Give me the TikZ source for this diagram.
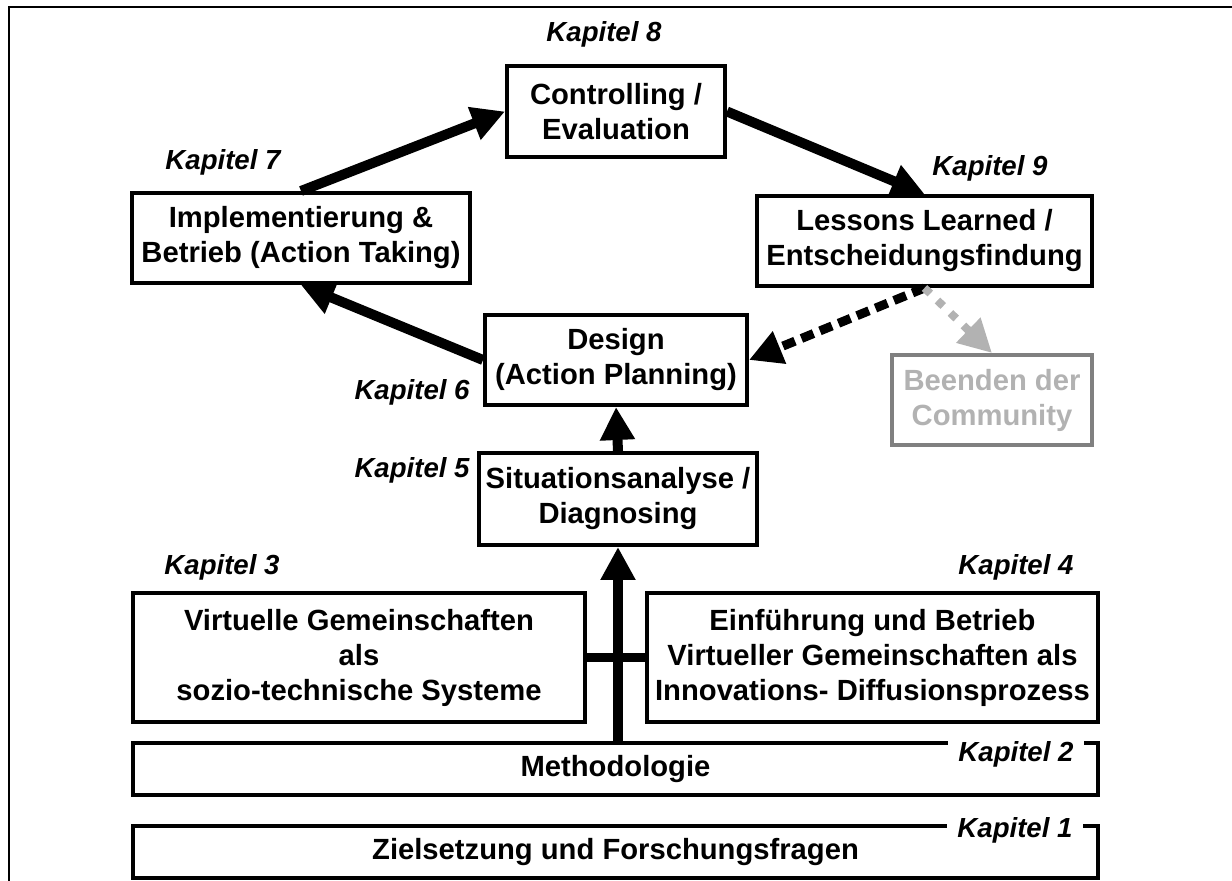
\documentclass[tikz,border=0pt]{standalone}
\usepackage{fontspec}
\setmainfont{Liberation Sans}
\usetikzlibrary{arrows.meta}
\definecolor{lgray}{RGB}{178,178,178}
\definecolor{mgray}{RGB}{128,128,128}
\begin{document}
\begin{tikzpicture}[x=0.5pt,y=-0.5pt,
  box/.style={draw, line width=2pt, inner sep=0pt, align=center, fill=white,
    font=\bfseries\fontsize{14.6}{17.5}\selectfont},
  kap/.style={font=\bfseries\itshape\fontsize{13.8}{16}\selectfont, inner sep=0pt, anchor=base},
  kapw/.style={kap, fill=white, inner xsep=5pt, inner ysep=3pt},
  arr/.style={line width=5pt, -{Triangle[length=16.5pt,width=16.5pt]}},
  dotarr/.style={line width=4.5pt, dash pattern=on 6.5pt off 3.5pt, -{Triangle[length=16.5pt,width=16.5pt]}},
  grayarr/.style={line width=4pt, draw=lgray, dash pattern=on 4pt off 5pt, -{Triangle[length=16.5pt,width=16.5pt]}}
]
\useasboundingbox (0,0) rectangle (1232,881);
% frame
\draw[line width=1pt] (1232,7) -- (9,7) -- (9,881);

% boxes
\node[box, minimum width=109pt, minimum height=45.5pt] (ctrl) at (616,111.5) {Controlling /\\Evaluation};
\node[box, minimum width=169pt, minimum height=45pt] (impl) at (301,238) {Implementierung \&\\Betrieb (Action Taking)};
\node[box, minimum width=167.5pt, minimum height=45pt] (less) at (924.5,241) {Lessons Learned /\\Entscheidungsfindung};
\node[box, minimum width=131pt, minimum height=45pt] (design) at (616,360) {Design\\(Action Planning)};
\node[box, draw=mgray, text=lgray, minimum width=100pt, minimum height=45pt] (beend) at (992,400) {Beenden der\\Community};
\node[box, minimum width=139pt, minimum height=46pt] (sit) at (618,499) {Situationsanalyse /\\Diagnosing};
\node[box, minimum width=226pt, minimum height=64.5pt] (virt) at (359,657.5) {Virtuelle Gemeinschaften\\als\\sozio-technische Systeme};
\node[box, minimum width=225.5pt, minimum height=64.5pt] (einf) at (872.5,657.5) {Einführung und Betrieb\\Virtueller Gemeinschaften als\\Innovations- Diffusionsprozess};
\node[box, minimum width=482.5pt, minimum height=26pt] (meth) at (615.5,769) {Methodologie};
\node[box, minimum width=482.5pt, minimum height=26pt] (ziel) at (615.5,852) {Zielsetzung und Forschungsfragen};

% chapter labels
\node[kap] (k8) at (604,42) {Kapitel 8};
\node[kap] (k7) at (223,170) {Kapitel 7};
\node[kap] (k9) at (990,176) {Kapitel 9};
\node[kap, anchor=base east] (k6) at (470,400) {Kapitel 6};
\node[kap, anchor=base east] (k5) at (470,478) {Kapitel 5};
\node[kap] (k3) at (222,575) {Kapitel 3};
\node[kap] (k4) at (1016,575) {Kapitel 4};
\node[kapw] (k2) at (1016,762) {Kapitel 2};
\node[kapw] (k1) at (1015,837) {Kapitel 1};

% connectors
\draw[arr] (impl.north) -- (ctrl.west);
\draw[arr] (ctrl.east) -- (less.north);
\draw[dotarr] (less.south) -- (design.east);
\draw[grayarr] (less.south) -- (beend.north);
\draw[arr] (design.west) -- (impl.south);
\draw[arr] (sit.north) -- (design.south);
\draw[line width=4.5pt] (virt.east) -- (einf.west);
\draw[arr] (sit.south |- meth.north) -- (sit.south);
\end{tikzpicture}
\end{document}
